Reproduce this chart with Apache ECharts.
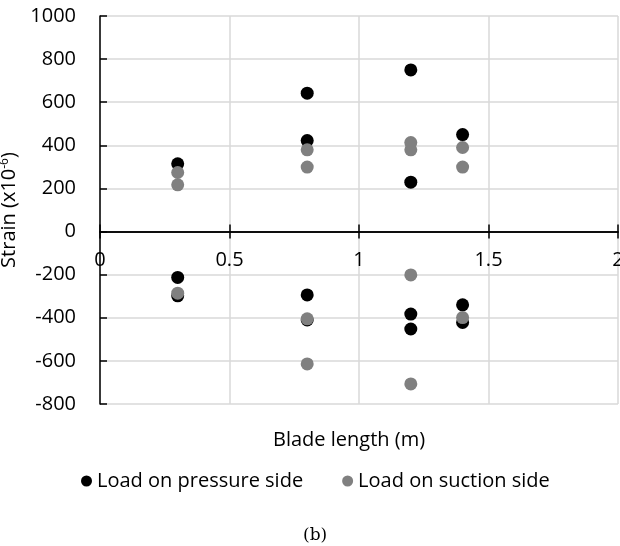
<!DOCTYPE html>
<html>
<head>
<meta charset="utf-8">
<script src="https://cdn.jsdelivr.net/npm/echarts@6/dist/echarts.min.js"></script>
<style>
  html, body { margin: 0; padding: 0; background: #fff; }
  #chart { width: 620px; height: 546px; }
</style>
</head>
<body>
<div id="chart"></div>
<script>
// blade length positions (m) and strain readings (x10^-6)
var pressureX = [0.3, 0.3, 0.3, 0.8, 0.8, 0.8, 0.8, 1.2, 1.2, 1.2, 1.2, 1.4, 1.4, 1.4];
var pressureY = [314, -213, -298, 642, 422, -294, -410, 750, 229, -383, -452, 450, -340, -422];
var suctionX = [0.3, 0.3, 0.3, 0.8, 0.8, 0.8, 0.8, 1.2, 1.2, 1.2, 1.2, 1.4, 1.4, 1.4];
var suctionY = [274, 217, -286, 379, 299, -405, -614, 413, 379, -201, -707, 390, 299, -399];
var seriesNames = ['Load on pressure side', 'Load on suction side'];
var xMin = 0, xMax = 2, xStep = 0.5;
var yMin = -800, yMax = 1000, yStep = 200;

var font = 'Open Sans';

function pairs(xs, ys) {
    return xs.map(function (x, i) { return [x, ys[i]]; });
}

var axisBlack = { color: '#000', width: 1.5 };
var plotTop = 16, plotBottom = 142, H = 546;
// where y = 0 falls, so the x labels can sit just under it
var zeroFromBottom = plotBottom + (H - plotTop - plotBottom) * (0 - yMin) / (yMax - yMin);

var chart = echarts.init(document.getElementById('chart'));
var option = {
    animation: false,
    textStyle: { fontFamily: font },
    grid: [
        { left: 100, right: 2, top: plotTop, bottom: plotBottom, outerBoundsMode: 'none', containLabel: false },
        { left: 100, right: 2, top: plotTop, bottom: zeroFromBottom, outerBoundsMode: 'none', containLabel: false }
    ],
    legend: {
        top: 466,
        left: 76,
        icon: 'circle',
        itemWidth: 11,
        itemHeight: 11,
        itemGap: 39,
        textStyle: { fontSize: 20, color: '#000', fontFamily: font },
        data: seriesNames
    },
    graphic: [
        {
            type: 'text', left: 273, top: 430,
            style: { text: 'Blade length (m)', font: '20px "Open Sans"', fill: '#000' }
        },
        {
            type: 'text', left: 303, top: 527,
            style: { text: '(b)', font: '17px "DejaVu Serif"', fill: '#000' }
        }
    ],
    xAxis: [
        {
            // gridlines + downward ticks on the zero line
            type: 'value', min: xMin, max: xMax, interval: xStep, gridIndex: 0,
            axisLine: { onZero: true, onZeroAxisIndex: 0, lineStyle: axisBlack },
            axisTick: { show: true, length: 7, lineStyle: axisBlack },
            axisLabel: { show: false },
            splitLine: { show: true, lineStyle: { color: '#d9d9d9', width: 1.5 } }
        },
        {
            // upward ticks on the zero line
            type: 'value', min: xMin, max: xMax, interval: xStep, gridIndex: 0, position: 'top',
            axisLine: { onZero: true, onZeroAxisIndex: 0, lineStyle: axisBlack },
            axisTick: { show: true, inside: false, length: 7, lineStyle: axisBlack },
            axisLabel: { show: false },
            splitLine: { show: false }
        },
        {
            // tick labels just under the zero line
            type: 'value', min: xMin, max: xMax, interval: xStep, gridIndex: 1, position: 'bottom',
            axisLine: { show: false, onZero: false },
            axisTick: { show: false },
            axisLabel: { show: true, margin: 19, fontSize: 20, color: '#000' },
            splitLine: { show: false }
        }
    ],
    yAxis: [
        {
            type: 'value', min: yMin, max: yMax, interval: yStep, gridIndex: 0,
            name: 'Strain (x10{sup|-6})',
            nameLocation: 'middle',
            nameGap: 75,
            nameTextStyle: {
                fontSize: 20, color: '#000',
                rich: { sup: { fontSize: 12, color: '#000', verticalAlign: 'top', padding: [0, 0, 9, 0] } }
            },
            axisLine: { show: true, onZero: false, lineStyle: axisBlack },
            axisTick: { show: true, inside: true, length: 7, lineStyle: axisBlack },
            axisLabel: { margin: 24, fontSize: 20, color: '#000', formatter: function (v) { return String(v); } },
            splitLine: { show: true, lineStyle: { color: '#d9d9d9', width: 1.5 } }
        },
        {
            type: 'value', min: 0, max: yMax, gridIndex: 1, show: false
        }
    ],
    series: [
        {
            name: seriesNames[0], type: 'scatter', symbolSize: 13,
            itemStyle: { color: '#000000', opacity: 1 },
            data: pairs(pressureX, pressureY)
        },
        {
            name: seriesNames[1], type: 'scatter', symbolSize: 13,
            itemStyle: { color: '#808080', opacity: 1 },
            data: pairs(suctionX, suctionY)
        }
    ]
};
chart.setOption(option);
</script>
</body>
</html>
